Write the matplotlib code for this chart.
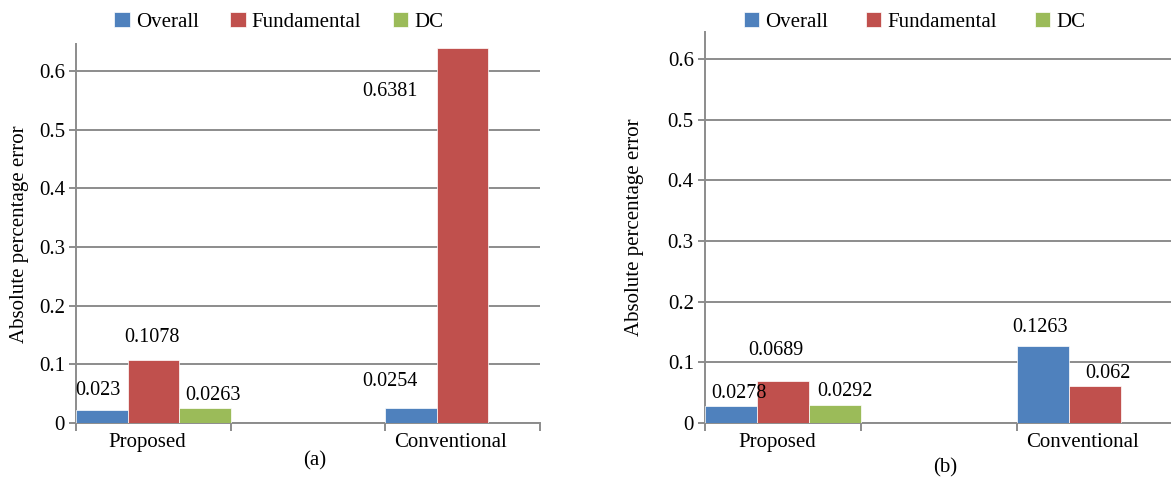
import numpy as np
import matplotlib
matplotlib.use('Agg')
import matplotlib.pyplot as plt

# Data
categories = ['Proposed', '', 'Conventional']
series = ['Overall', 'Fundamental', 'DC']
colors = ['#4F81BD', '#C0504D', '#9BBB59']

# values per series, one per category (None = no bar)
a_overall = [0.023, None, 0.0254]
a_fundamental = [0.1078, None, 0.6381]
a_dc = [0.0263, None, None]

b_overall = [0.0278, None, 0.1263]
b_fundamental = [0.0689, None, 0.062]
b_dc = [0.0292, None, None]

plt.rcParams['font.family'] = ['Liberation Serif', 'DejaVu Serif']
plt.rcParams['font.size'] = 15

fig = plt.figure(figsize=(11.71, 4.83), dpi=100)

# label offsets in points (dx, dy) from the bar top centre, keyed by (category, series)
a_offsets = {(0, 0): (-3, 14), (0, 1): (-1, 16), (0, 2): (6, 9),
             (2, 0): (-15, 19), (2, 1): (-52, -31)}
b_offsets = {(0, 0): (6, 9), (0, 1): (-5, 22), (0, 2): (7, 10),
             (2, 0): (-2.5, 14), (2, 1): (9, 9)}


def draw_panel(rect, data, offsets, sub_label, sub_off, ylab_x, legend_x, legend_cols):
    ax = fig.add_axes(rect)
    w = 1.0 / len(series)
    for i, vals in enumerate(data):
        for j, v in enumerate(vals):
            if v is None:
                continue
            x = j + i * w
            ax.bar(x, v, width=w, align='edge', color=colors[i], edgecolor='white',
                   linewidth=0.5, zorder=3, label=series[i] if j == 0 else None)
            dx, dy = offsets[(j, i)]
            ax.annotate(f'{v:g}', (x + w / 2, v), xytext=(dx, dy), textcoords='offset points',
                        ha='center', va='center', fontsize=14.5, zorder=4)
    ax.set_xlim(0, len(categories))
    ax.set_ylim(0, 0.645)
    ax.set_yticks(np.arange(0, 0.61, 0.1))
    ax.set_yticklabels(['0', '0.1', '0.2', '0.3', '0.4', '0.5', '0.6'])
    ax.yaxis.grid(True, color='#8c8c8c', linewidth=1.4, zorder=0)
    ax.set_xticks(np.arange(0, len(categories) + 1))
    ax.set_xticklabels([])
    ax.set_xticks([0.46, 2.42], minor=True)
    ax.set_xticklabels([categories[0], categories[2]], minor=True)
    ax.tick_params(axis='x', which='minor', length=0, pad=7)
    ax.tick_params(axis='x', which='major', length=6, color='#8c8c8c', width=1.4)
    ax.tick_params(axis='y', length=5, color='#8c8c8c', width=1.4, pad=3)
    for s in ['top', 'right']:
        ax.spines[s].set_visible(False)
    for s in ['left', 'bottom']:
        ax.spines[s].set_color('#8c8c8c')
        ax.spines[s].set_linewidth(1.4)
    ax.set_ylabel('Absolute percentage error')
    ax.yaxis.set_label_coords(ylab_x, 0.5)
    ax.annotate(sub_label, (0.5, 0), xycoords='axes fraction', xytext=sub_off,
                textcoords='offset points', ha='center', va='center', fontsize=15)
    handles, labels = ax.get_legend_handles_labels()
    fig.legend(handles, labels, loc='center', bbox_to_anchor=(legend_x, 0.955), ncol=3,
               frameon=False, handlelength=0.75, handleheight=0.75, handletextpad=0.3,
               columnspacing=legend_cols, fontsize=15)
    return ax


ax1 = draw_panel([0.065, 0.124, 0.396, 0.784], [a_overall, a_fundamental, a_dc],
                 a_offsets, '(a)', (5, -27), -0.101, 0.238, 1.5)
ax2 = draw_panel([0.602, 0.124, 0.40, 0.81], [b_overall, b_fundamental, b_dc],
                 b_offsets, '(b)', (4, -32), -0.130, 0.781, 1.8)

fig.savefig('out.png', dpi=100)
